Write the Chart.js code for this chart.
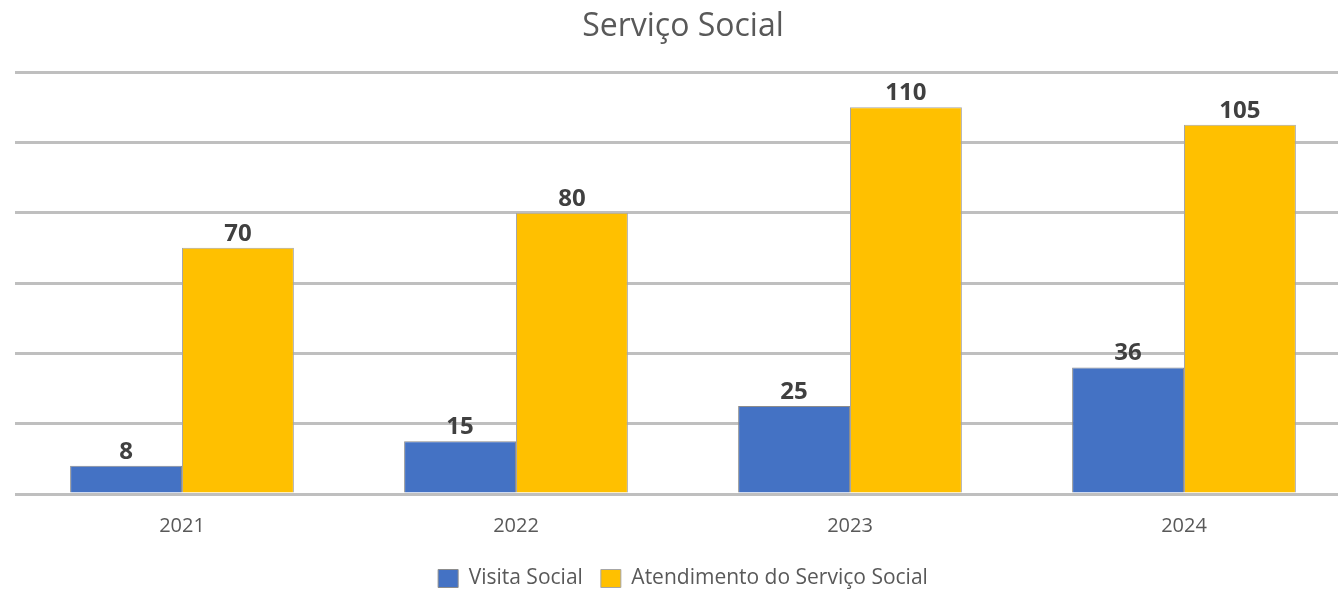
<!DOCTYPE html>
<html lang="pt">
<head>
    <meta charset="UTF-8">
    <title>Serviço Social</title>
    <script src="https://cdn.jsdelivr.net/npm/chart.js@4/dist/chart.umd.min.js"></script>
    <style>
      html, body { margin: 0; padding: 0; overflow: hidden; background: #fff; }
      .container { width: 1352px; height: 599px; }
    </style>
</head>
<body>
    <div class="container">
        <canvas id="myChart" width="1352" height="599"></canvas>
    </div>
    <script>
        const years = ['2021', '2022', '2023', '2024'];
        const visitaSocial = [8, 15, 25, 36];
        const atendimento = [70, 80, 110, 105];

        // draws the value above each bar
        const valueLabels = {
          id: 'valueLabels',
          afterDatasetsDraw(chart) {
            const ctx = chart.ctx;
            ctx.save();
            ctx.font = 'bold 24px "Open Sans", sans-serif';
            ctx.fillStyle = '#404040';
            ctx.textAlign = 'center';
            ctx.textBaseline = 'alphabetic';
            chart.data.datasets.forEach((ds, i) => {
              chart.getDatasetMeta(i).data.forEach((bar, j) => {
                ctx.fillText(ds.data[j], bar.x, bar.y - 7);
              });
            });
            ctx.restore();
          }
        };

        new Chart(document.getElementById('myChart'), {
          type: 'bar',
          data: {
            labels: years,
            datasets: [
              {
                label: 'Visita Social',
                data: visitaSocial,
                backgroundColor: '#4472C4',
                borderColor: '#8c8c8c',
                borderWidth: 1
              },
              {
                label: 'Atendimento do Serviço Social',
                data: atendimento,
                backgroundColor: '#FFC000',
                borderColor: '#a6a6a6',
                borderWidth: 1
              }
            ]
          },
          options: {
            responsive: false,
            animation: false,
            layout: { padding: { left: 15, right: 1, top: 0, bottom: 0 } },
            datasets: {
              bar: { barPercentage: 1, categoryPercentage: 0.67 }
            },
            scales: {
              x: {
                grid: { display: false },
                border: { display: false },
                ticks: { color: '#595959', font: { family: 'Open Sans', size: 20 }, padding: 12 }
              },
              y: {
                min: 0,
                max: 120,
                ticks: { display: false, stepSize: 20 },
                grid: { color: '#bfbfbf', lineWidth: 3, drawTicks: false },
                border: { display: false }
              }
            },
            plugins: {
              title: {
                display: true,
                text: 'Serviço Social',
                color: '#595959',
                font: { family: 'Open Sans', size: 32, weight: 'normal' },
                padding: { top: 8, bottom: 25.6 }
              },
              legend: {
                position: 'bottom',
                labels: {
                  color: '#595959',
                  font: { family: 'Open Sans', size: 21 },
                  boxWidth: 20,
                  boxHeight: 18,
                  padding: 18
                }
              },
              tooltip: { enabled: false }
            }
          },
          plugins: [valueLabels]
        });
    </script>
</body>
</html>
